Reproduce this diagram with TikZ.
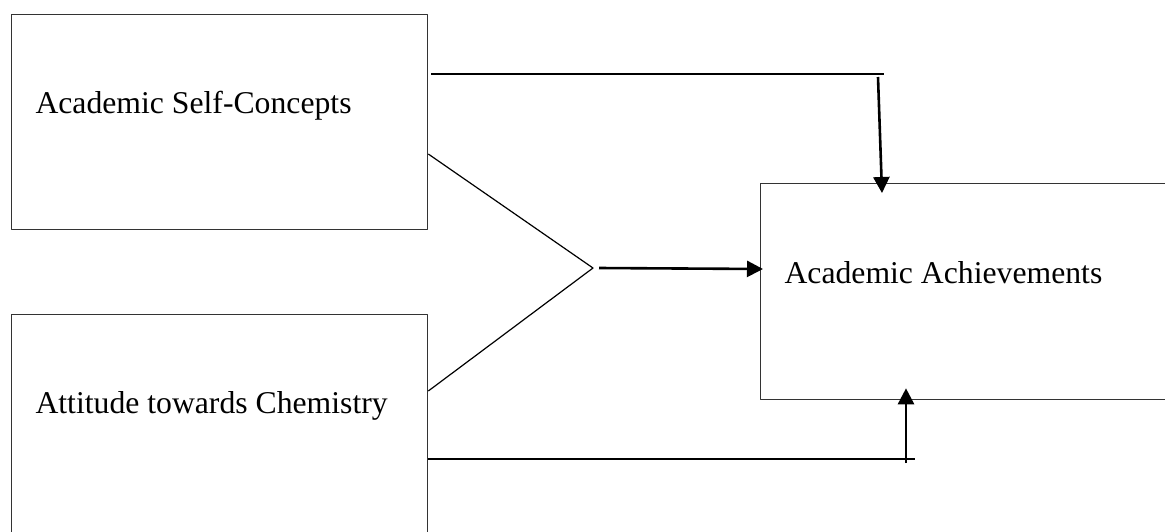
\documentclass[tikz,border=0pt]{standalone}
\usepackage{fontspec}
\setmainfont{Liberation Serif}
\usetikzlibrary{arrows.meta,calc}
\begin{document}
\begin{tikzpicture}[x=1pt, y=-1pt, line join=round, font=\fontsize{31.7}{38}\selectfont, >={Triangle[length=16pt,width=16pt]}]
	\tikzset{hop/.style={draw, black!80, line width=1.3pt, rectangle, inner sep=0pt, anchor=north west},
		muiten/.style={->, line width=2.6pt}}
	\useasboundingbox (0,0) rectangle (1165,531);
	\clip (0,0) rectangle (1165,531);
	% ba hop
	\node[hop, minimum width=416pt, minimum height=215pt] (A) at (11,14) {};
	\node[hop, minimum width=416pt, minimum height=221pt] (B) at (11,314) {};
	\node[hop, minimum width=420pt, minimum height=216pt] (C) at (760,183) {};
	\node[anchor=base west] (a) at ($(A.north west)+(21,99)$) {Academic Self-Concepts};
	\node[anchor=base west] (b) at ($(B.north west)+(21,99)$) {Attitude towards Chemistry};
	\node[anchor=base west] (c) at ($(C.north west)+(21,100)$) {Academic Achievements};
	% cac diem noi
	\coordinate (M) at (593,268);
	\coordinate (P) at (884,74);
	\coordinate (Q) at (915,459);
	\draw[line width=1.2pt] ($(A.north east)+(3,60)$)--(P);
	\draw[line width=1.2pt] ($(A.north east)+(0,140)$)--(M)--($(B.north east)+(0,77)$);
	\draw[line width=1.2pt] ($(B.north east)+(0,145)$)--(Q);
	\draw[muiten] ($(P)+(-6,3)$)--($(C.north west)+(122,10)$);
	\draw[muiten] ($(M)+(6,0)$)--($(C.north west)+(3,86)$);
	\draw[muiten] ($(Q)+(-9,4)$)--($(C.south west)+(146,-12)$);
\end{tikzpicture}
\end{document}
